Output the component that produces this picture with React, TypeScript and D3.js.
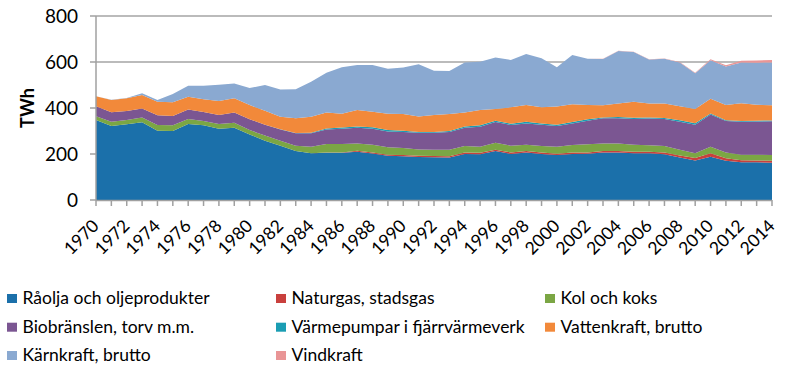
import React, { useEffect, useRef } from 'react';
import * as d3 from 'd3';

// 1970..2014, TWh
const years = d3.range(1970, 2015);

const olja = [348, 322, 329, 338, 301, 300, 330, 325, 310, 314, 285, 258, 236, 213, 203, 205, 205, 210, 202, 192, 190, 187, 186, 185, 200, 199, 213, 200, 207, 200, 196, 200, 201, 206, 206, 203, 203, 199, 185, 172, 188, 171, 164, 164, 162];
const naturgas = [0, 0, 0, 0, 0, 0, 0, 0, 0, 0, 0, 0, 0, 0, 0, 1, 2, 4, 4, 5, 6, 5, 5, 5, 6, 6, 6, 7, 6, 6, 5, 6, 6, 7, 7, 7, 7, 8, 8, 11, 15, 11, 9, 8, 9];
const kol = [16, 18, 19, 21, 25, 25, 22, 18, 20, 22, 19, 22, 22, 23, 29, 37, 36, 32, 34, 32, 30, 28, 28, 29, 29, 27, 30, 29, 27, 29, 31, 33, 35, 33, 33, 30, 28, 28, 26, 20, 29, 25, 24, 25, 25];
const bio = [44, 41, 39, 39, 42, 40, 42, 40, 40, 44, 47, 47, 49, 54, 58, 64, 67, 68, 70, 69, 70, 72, 73, 77, 79, 87, 90, 90, 93, 92, 90, 94, 103, 109, 109, 112, 116, 117, 121, 124, 140, 136, 143, 144, 146];
const varmepumpar = [0, 0, 0, 0, 0, 0, 0, 0, 0, 0, 0, 0, 0.5, 1, 2, 4, 5, 6, 6, 6, 5, 4, 4, 4, 6, 6, 6, 6, 7, 6, 5, 6, 6, 4, 6, 6, 5, 5, 7, 7, 4, 4, 4, 4, 4];
const vatten = [43, 54, 55, 58, 59, 60, 55, 55, 60, 62, 62, 61, 54, 64, 70, 69, 60, 71, 68, 71, 73, 67, 74, 74, 60, 66, 51, 71, 73, 70, 79, 77, 62, 53, 59, 69, 61, 63, 61, 62, 64, 66, 77, 69, 66];
const karn = [0, 1, 2, 8, 8, 36, 48, 59, 71, 65, 74, 112, 119, 126, 152, 173, 202, 196, 203, 196, 202, 227, 192, 187, 218, 210, 224, 206, 222, 213, 171, 214, 201, 201, 228, 217, 191, 194, 190, 155, 168, 167, 177, 183, 186];
const vind = [0, 0, 0, 0, 0, 0, 0, 0, 0, 0, 0, 0, 0, 0, 0, 0, 0, 0, 0, 0, 0, 0, 0, 0, 0, 0, 0.1, 0.2, 0.3, 0.4, 0.5, 0.5, 0.6, 0.6, 0.9, 0.9, 1, 1.4, 2, 2.5, 3.5, 6, 7, 10, 11];

const seriesNames = [
  'Råolja och oljeprodukter',
  'Naturgas, stadsgas',
  'Kol och koks',
  'Biobränslen, torv m.m.',
  'Värmepumpar i fjärrvärmeverk',
  'Vattenkraft, brutto',
  'Kärnkraft, brutto',
  'Vindkraft',
];
const seriesValues = [olja, naturgas, kol, bio, varmepumpar, vatten, karn, vind];
const colors = ['#1b70aa', '#c9403d', '#7ba644', '#7b5692', '#1a9db3', '#f2893a', '#8aa9d1', '#e99596'];

const yTicks = [0, 200, 400, 600, 800];
const yearLabels = years.filter(y => y % 2 === 0);

const FONT = 'Lato, "Open Sans", sans-serif';

function Chart() {
  const ref = useRef<SVGSVGElement>(null);

  useEffect(() => {
    const svg = d3.select(ref.current);
    svg.selectAll('*').remove();

    const x = d3.scaleLinear().domain([1970, 2014]).range([96, 772]);
    const y = d3.scaleLinear().domain([0, 800]).range([200, 16]);

    // table for the stack
    const table = years.map((yr, i) => {
      const row: any = { year: yr };
      seriesNames.forEach((n, k) => { row[n] = seriesValues[k][i]; });
      return row;
    });
    const stacked = d3.stack().keys(seriesNames)(table);

    // grid
    svg.append('g')
      .selectAll('line')
      .data(yTicks.slice(1))
      .enter().append('line')
      .attr('x1', 96).attr('x2', 772)
      .attr('y1', d => y(d)).attr('y2', d => y(d))
      .attr('stroke', '#a5a5a5').attr('stroke-width', 1.5);

    const area = d3.area<any>()
      .x(d => x(d.data.year))
      .y0(d => y(d[0]))
      .y1(d => y(d[1]));

    svg.append('g')
      .selectAll('path')
      .data(stacked)
      .enter().append('path')
      .attr('d', d => area(d as any))
      .attr('fill', (d, i) => colors[i]);

    // axes
    const axisColor = '#a0a0a0';
    svg.append('line')
      .attr('x1', 96).attr('x2', 96).attr('y1', y(800)).attr('y2', y(0))
      .attr('stroke', axisColor).attr('stroke-width', 1.5);
    svg.append('line')
      .attr('x1', 96).attr('x2', 772).attr('y1', y(0) + 0.5).attr('y2', y(0) + 0.5)
      .attr('stroke', axisColor).attr('stroke-width', 1.5);

    svg.append('g')
      .selectAll('line')
      .data(yTicks)
      .enter().append('line')
      .attr('x1', 90).attr('x2', 96)
      .attr('y1', d => y(d)).attr('y2', d => y(d))
      .attr('stroke', axisColor).attr('stroke-width', 1.5);

    svg.append('g')
      .selectAll('line')
      .data(years)
      .enter().append('line')
      .attr('x1', d => x(d)).attr('x2', d => x(d))
      .attr('y1', 200).attr('y2', 206)
      .attr('stroke', axisColor).attr('stroke-width', 1.5);

    svg.append('g')
      .selectAll('text')
      .data(yTicks)
      .enter().append('text')
      .attr('x', 78)
      .attr('y', d => y(d))
      .attr('dy', '0.36em')
      .attr('text-anchor', 'end')
      .attr('font-family', FONT)
      .attr('font-size', 19)
      .attr('fill', '#000')
      .text(d => d);

    svg.append('g')
      .selectAll('text')
      .data(yearLabels)
      .enter().append('text')
      .attr('text-anchor', 'end')
      .attr('font-family', FONT)
      .attr('font-size', 17.5)
      .attr('fill', '#000')
      .attr('transform', d => `translate(${x(d) + 4},227) rotate(-45)`)
      .text(d => d);

    svg.append('text')
      .attr('transform', 'translate(27,108) rotate(-90)')
      .attr('text-anchor', 'middle')
      .attr('dominant-baseline', 'central')
      .attr('font-family', FONT)
      .attr('font-weight', 'bold')
      .attr('font-size', 18)
      .text('TWh');

    // legend, three columns
    const colX = [7, 276, 545];
    const rowY = [304, 332.7, 361];
    const leg = svg.append('g')
      .selectAll('g')
      .data(seriesNames)
      .enter().append('g')
      .attr('transform', (d, i) => `translate(${colX[i % 3]},${rowY[Math.floor(i / 3)]})`);
    leg.append('rect')
      .attr('x', 0).attr('y', -10).attr('width', 10).attr('height', 9)
      .attr('fill', (d, i) => colors[i]);
    leg.append('text')
      .attr('x', 15.5)
      .attr('font-family', FONT)
      .attr('font-size', 17.5)
      .attr('fill', '#000')
      .text(d => d);
  }, []);

  return <svg ref={ref} width={788} height={374} style={{ position: 'absolute', left: 0, top: 0, background: '#fff' }} />;
}

export default function App() {
  return <Chart />;
}
